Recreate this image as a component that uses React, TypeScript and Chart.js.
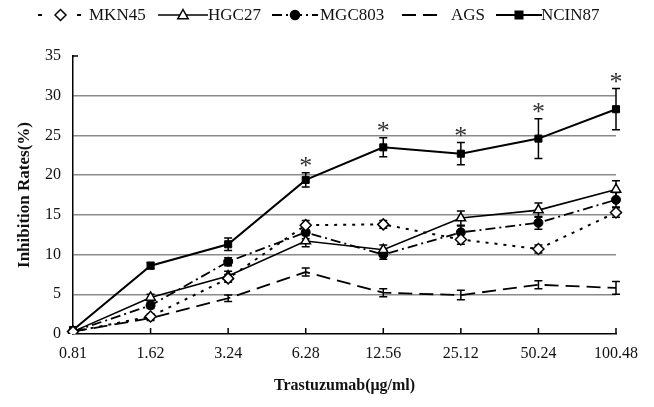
import React, { useEffect, useRef } from "react";
import { Chart, registerables } from "chart.js";
Chart.register(...registerables);

const categories = ["0.81", "1.62", "3.24", "6.28", "12.56", "25.12", "50.24", "100.48"];
const mkn45 = [0.3, 2.2, 7.0, 13.7, 13.8, 11.9, 10.7, 15.3];
const mkn45Err = [0.2, 0.3, 0.5, 0.6, 0.5, 0.6, 0.5, 0.6];
const hgc27 = [0.3, 4.6, 7.3, 11.7, 10.6, 14.6, 15.6, 18.2];
const hgc27Err = [0.2, 0.4, 0.6, 0.7, 0.6, 0.9, 0.9, 1.1];
const mgc803 = [0.3, 3.6, 9.1, 12.8, 10.0, 12.8, 14.0, 16.9];
const mgc803Err = [0.2, 0.4, 0.5, 0.8, 0.6, 0.8, 0.8, 0.9];
const ags = [0.3, 2.0, 4.5, 7.8, 5.2, 4.9, 6.2, 5.8];
const agsErr = [0.2, 0.3, 0.4, 0.5, 0.5, 0.6, 0.5, 0.8];
const ncin87 = [0.5, 8.6, 11.3, 19.4, 23.5, 22.7, 24.6, 28.3];
const ncin87Err = [0.3, 0.4, 0.8, 0.9, 1.2, 1.4, 2.5, 2.6];
const significant = [false, false, false, true, true, true, true, true];
const seriesNames = ["MKN45", "HGC27", "MGC803", "AGS", "NCIN87"];

const FONT = "'Liberation Serif', 'Times New Roman', serif";

function drawMarker(ctx: CanvasRenderingContext2D, style: string, x: number, y: number, r: number, fill: string) {
  ctx.save();
  ctx.beginPath();
  if (style === "rectRot") {
    ctx.moveTo(x, y - r); ctx.lineTo(x + r, y); ctx.lineTo(x, y + r); ctx.lineTo(x - r, y); ctx.closePath();
  } else if (style === "triangle") {
    ctx.moveTo(x, y - r); ctx.lineTo(x + r * 0.95, y + r * 0.7); ctx.lineTo(x - r * 0.95, y + r * 0.7); ctx.closePath();
  } else if (style === "circle") {
    ctx.arc(x, y, r, 0, Math.PI * 2);
  } else if (style === "rect") {
    ctx.rect(x - r * 0.75, y - r * 0.75, r * 1.5, r * 1.5);
  }
  ctx.fillStyle = fill;
  ctx.fill();
  ctx.setLineDash([]);
  ctx.lineWidth = 1.5;
  ctx.strokeStyle = "#000";
  ctx.stroke();
  ctx.restore();
}

const errorBarPlugin = {
  id: "errorBars",
  beforeDatasetsDraw(chart: any) {
    const ctx = chart.ctx as CanvasRenderingContext2D;
    const xs = chart.scales.x, ys = chart.scales.y;
    ctx.save();
    ctx.strokeStyle = "#000";
    ctx.lineWidth = 1.5;
    ctx.setLineDash([]);
    chart.data.datasets.forEach((ds: any) => {
      const errs: number[] = ds.errors;
      if (!errs) return;
      ds.data.forEach((v: number, i: number) => {
        const x = xs.getPixelForValue(i);
        const yt = ys.getPixelForValue(v + errs[i]);
        const yb = ys.getPixelForValue(Math.max(0, v - errs[i]));
        ctx.beginPath();
        ctx.moveTo(x, yt); ctx.lineTo(x, yb);
        ctx.moveTo(x - 4, yt); ctx.lineTo(x + 4, yt);
        ctx.moveTo(x - 4, yb); ctx.lineTo(x + 4, yb);
        ctx.stroke();
      });
    });
    ctx.restore();
  },
  afterDatasetsDraw(chart: any) {
    const ctx = chart.ctx as CanvasRenderingContext2D;
    const xs = chart.scales.x, ys = chart.scales.y;
    ctx.save();
    ctx.fillStyle = "#333";
    ctx.font = `26px ${FONT}`;
    ctx.textAlign = "center";
    ctx.textBaseline = "alphabetic";
    significant.forEach((s, i) => {
      if (!s) return;
      const x = xs.getPixelForValue(i);
      const yt = ys.getPixelForValue(ncin87[i] + ncin87Err[i]);
      ctx.fillText("*", x, yt + 1);
    });
    // inside tick marks on x axis
    ctx.strokeStyle = "#000";
    ctx.lineWidth = 1.5;
    const by = ys.getPixelForValue(0);
    categories.forEach((_, i) => {
      if (i === 0) return;
      const x = xs.getPixelForValue(i);
      ctx.beginPath();
      ctx.moveTo(x, by); ctx.lineTo(x, by - 6);
      ctx.stroke();
    });
    // small tick at top of y axis
    const ty = ys.getPixelForValue(35);
    ctx.beginPath();
    ctx.moveTo(xs.left, ty); ctx.lineTo(xs.left + 5, ty);
    ctx.stroke();
    ctx.restore();
  },
};

const legendPlugin = {
  id: "customLegend",
  afterDraw(chart: any) {
    const ctx = chart.ctx as CanvasRenderingContext2D;
    const items = [
      { x0: 37, x1: 84, tx: 89 },
      { x0: 158, x1: 208, tx: 208 },
      { x0: 272, x1: 318, tx: 320 },
      { x0: 402, x1: 442, tx: 451 },
      { x0: 496, x1: 542, tx: 541 },
    ];
    const y = 15;
    ctx.save();
    chart.data.datasets.forEach((ds: any, i: number) => {
      const it = items[i];
      ctx.strokeStyle = "#000";
      ctx.lineWidth = ds.borderWidth;
      if (i === 0) {
        ctx.setLineDash([]);
        ctx.beginPath();
        ctx.moveTo(it.x0 + 1, y); ctx.lineTo(it.x0 + 5, y);
        ctx.moveTo(it.x1 - 7, y); ctx.lineTo(it.x1 - 3, y);
        ctx.stroke();
      } else {
        ctx.setLineDash(ds.borderDash || []);
        ctx.beginPath();
        ctx.moveTo(it.x0, y); ctx.lineTo(it.x1, y);
        ctx.stroke();
      }
      if (ds.pointRadius > 0) {
        drawMarker(ctx, ds.pointStyle, (it.x0 + it.x1) / 2, y, ds.pointRadius, ds.pointBackgroundColor);
      }
      ctx.setLineDash([]);
      ctx.fillStyle = "#111";
      ctx.font = `17px ${FONT}`;
      ctx.textAlign = "left";
      ctx.textBaseline = "middle";
      ctx.fillText(ds.label, it.tx, y + 1);
    });
    ctx.restore();
  },
};

export default function App() {
  const ref = useRef<HTMLCanvasElement>(null);
  useEffect(() => {
    document.body.style.margin = "0";
    const canvas = ref.current!;
    const chart = new Chart(canvas, {
      type: "line",
      data: {
        labels: categories,
        datasets: [
          {
            label: seriesNames[0], data: mkn45, errors: mkn45Err,
            borderColor: "#000", borderWidth: 2, borderDash: [3, 6],
            pointStyle: "rectRot", pointRadius: 5.5, pointBackgroundColor: "#fff",
            pointBorderColor: "#000", pointBorderWidth: 1.5, tension: 0,
          },
          {
            label: seriesNames[1], data: hgc27, errors: hgc27Err,
            borderColor: "#000", borderWidth: 1.6,
            pointStyle: "triangle", pointRadius: 5.5, pointBackgroundColor: "#fff",
            pointBorderColor: "#000", pointBorderWidth: 1.5, tension: 0,
          },
          {
            label: seriesNames[2], data: mgc803, errors: mgc803Err,
            borderColor: "#000", borderWidth: 1.8, borderDash: [10, 4, 2, 4],
            pointStyle: "circle", pointRadius: 4.5, pointBackgroundColor: "#000",
            pointBorderColor: "#000", pointBorderWidth: 1, tension: 0,
          },
          {
            label: seriesNames[3], data: ags, errors: agsErr,
            borderColor: "#000", borderWidth: 1.8, borderDash: [14, 7],
            pointStyle: "circle", pointRadius: 0, pointBackgroundColor: "#000",
            tension: 0,
          },
          {
            label: seriesNames[4], data: ncin87, errors: ncin87Err,
            borderColor: "#000", borderWidth: 2,
            pointStyle: "rect", pointRadius: 5, pointBackgroundColor: "#000",
            pointBorderColor: "#000", pointBorderWidth: 1, tension: 0,
          },
        ] as any,
      },
      options: {
        responsive: false,
        animation: false,
        layout: { padding: { top: 56, right: 38, left: 0, bottom: 0 } },
        plugins: { legend: { display: false }, tooltip: { enabled: false } },
        scales: {
          x: {
            type: "category",
            offset: false,
            afterFit: (s: any) => { s.height = 73; },
            grid: { drawOnChartArea: false, drawTicks: false },
            border: { display: true, color: "#000", width: 1.5 },
            ticks: { color: "#111", font: { family: FONT, size: 16 }, padding: 10, maxRotation: 0, autoSkip: false },
            title: {
              display: true, text: "Trastuzumab(μg/ml)", color: "#111",
              font: { family: FONT, size: 16, weight: "bold" }, padding: { top: 0, bottom: 12 },
            },
          },
          y: {
            min: 0, max: 35,
            afterFit: (s: any) => { s.width = 73; },
            grid: {
              drawTicks: false,
              color: (c: any) => (c.tick && (c.tick.value === 0 || c.tick.value === 35) ? "rgba(0,0,0,0)" : "#8a8a8a"),
              lineWidth: 1.5,
            },
            border: { display: true, color: "#000", width: 1.5 },
            ticks: { stepSize: 5, color: "#111", font: { family: FONT, size: 16 }, padding: 12 },
            title: {
              display: true, text: "Inhibition Rates(%)", color: "#111",
              font: { family: FONT, size: 17, weight: "bold" }, padding: { top: 14, bottom: 0 },
            },
          },
        },
      },
      plugins: [errorBarPlugin, legendPlugin],
    } as any);
    return () => chart.destroy();
  }, []);
  return (
    <div style={{ width: 654, height: 407 }}>
      <canvas ref={ref} width={654} height={407} />
    </div>
  );
}
